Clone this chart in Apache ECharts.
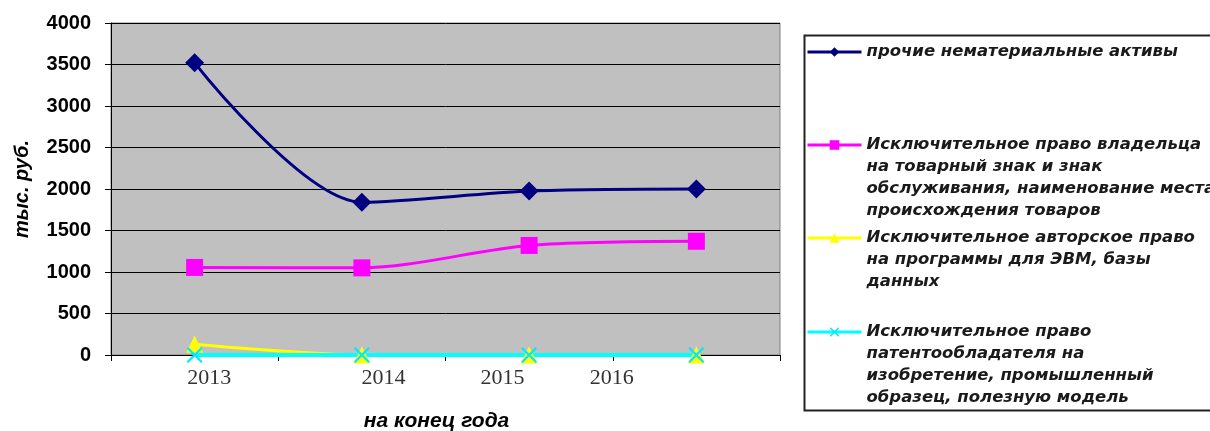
<!DOCTYPE html>
<html>
<head>
<meta charset="utf-8">
<script src="https://cdn.jsdelivr.net/npm/echarts@6/dist/echarts.min.js"></script>
<style>
  html, body { margin: 0; padding: 0; background: #fff; }
  #chart { width: 1210px; height: 431px; }
</style>
</head>
<body>
<div id="chart"></div>
<script>
  // данные графика
  const years = ['2013', '2014', '2015', '2016'];
  // подписи оси X стоят не под точками (как в исходном графике) — позиции в единицах категорий
  const yearLabels = ['2013', '2014', '2015', '2016'];
  const yearLabelPos = [0.587, 1.629, 2.341, 2.994];

  const otherAssets = [3520, 1840, 1975, 2000];
  const trademarkRight = [1055, 1050, 1320, 1370];
  const softwareRight = [130, 0, 0, 0];
  const patentRight = [0, 0, 0, 0];

  const yTicks = [0, 500, 1000, 1500, 2000, 2500, 3000, 3500, 4000];

  const names = [
    'прочие нематериальные активы',
    'Исключительное право владельца\nна товарный знак и знак\nобслуживания, наименование места\nпроисхождения товаров',
    'Исключительное авторское право\nна программы для ЭВМ, базы\nданных',
    'Исключительное право\nпатентообладателя на\nизобретение, промышленный\nобразец, полезную модель'
  ];

  const crossPath = 'path://M1,0 L5,4 L9,0 L10,1 L6,5 L10,9 L9,10 L5,6 L1,10 L0,9 L4,5 L0,1 Z';
  const LH = 22;

  const chart = echarts.init(document.getElementById('chart'));

  // одна легенда на серию, чтобы значок стоял у первой строки
  function makeLegend(name, iconY) {
    const n = name.split('\n').length;
    const blockH = (2 * n - 1) * LH;
    return {
      orient: 'vertical',
      left: 806,
      top: iconY - blockH / 2,
      itemWidth: 54,
      itemHeight: 12,
      padding: 0,
      data: [name],
      lineStyle: { width: 3 },
      formatter: function (t) {
        return '\n'.repeat(n - 1) + t;
      },
      textStyle: {
        fontFamily: 'DejaVu Sans',
        fontStyle: 'italic',
        fontWeight: 'bold',
        fontSize: 16.5,
        lineHeight: LH,
        color: '#1a1a1a'
      }
    };
  }

  const option = {
    animation: false,
    backgroundColor: '#fff',
    grid: {
      left: 111,
      right: 430,
      top: 23,
      bottom: 76,
      show: true,
      backgroundColor: '#c0c0c0',
      borderColor: '#808080',
      borderWidth: 1,
      outerBoundsMode: 'none'
    },
    graphic: [{
      type: 'rect',
      left: 802,
      top: 33,
      shape: { width: 440, height: 375 },
      style: { fill: 'none', stroke: '#222', lineWidth: 2 },
      silent: true
    }],
    legend: [
      makeLegend(names[0], 52),
      makeLegend(names[1], 145),
      makeLegend(names[2], 238),
      makeLegend(names[3], 332)
    ],
    xAxis: [{
      type: 'category',
      data: years,
      boundaryGap: true,
      name: 'на конец года',
      nameLocation: 'middle',
      nameGap: 56,
      nameTextStyle: {
        fontFamily: 'Liberation Sans',
        fontWeight: 'bold',
        fontStyle: 'italic',
        fontSize: 21,
        color: '#000',
        padding: [0, 18, 0, 0]
      },
      axisLine: { lineStyle: { color: '#000', width: 1 } },
      axisTick: { show: true, length: 6, lineStyle: { color: '#000' } },
      axisLabel: { show: false },
      splitLine: { show: false }
    }, {
      type: 'value',
      min: 0,
      max: 4,
      position: 'bottom',
      axisLine: { show: false },
      axisTick: { show: false },
      splitLine: { show: false },
      axisLabel: {
        customValues: yearLabelPos,
        margin: 12,
        fontFamily: 'Liberation Serif',
        fontSize: 22,
        color: '#333',
        formatter: function (v) {
          const i = yearLabelPos.findIndex(p => Math.abs(p - v) < 1e-6);
          return i >= 0 ? yearLabels[i] : '';
        }
      }
    }],
    yAxis: {
      type: 'value',
      min: yTicks[0],
      max: yTicks[yTicks.length - 1],
      interval: 500,
      name: 'тыс. руб.',
      nameLocation: 'middle',
      nameGap: 79,
      nameTextStyle: {
        fontFamily: 'Liberation Sans',
        fontWeight: 'bold',
        fontStyle: 'italic',
        fontSize: 20,
        color: '#000'
      },
      axisLine: { show: true, lineStyle: { color: '#000', width: 1 } },
      axisTick: { show: true, length: 6, lineStyle: { color: '#000' } },
      axisLabel: {
        margin: 20,
        fontFamily: 'Liberation Sans',
        fontWeight: 'bold',
        fontSize: 20,
        color: '#000',
        formatter: function (v) { return String(v); }
      },
      splitLine: { show: true, lineStyle: { color: '#000', width: 1 } }
    },
    series: [{
      name: names[0],
      type: 'line',
      smooth: 0.3,
      data: otherAssets,
      symbol: 'diamond',
      symbolSize: 19,
      itemStyle: { color: '#000080' },
      lineStyle: { color: '#000080', width: 3 }
    }, {
      name: names[1],
      type: 'line',
      smooth: 0.3,
      data: trademarkRight,
      symbol: 'rect',
      symbolSize: 17,
      itemStyle: { color: '#ff00ff' },
      lineStyle: { color: '#ff00ff', width: 3 }
    }, {
      name: names[2],
      type: 'line',
      smooth: 0.3,
      data: softwareRight,
      symbol: 'triangle',
      symbolSize: 17,
      itemStyle: { color: '#ffff00' },
      lineStyle: { color: '#ffff00', width: 3 }
    }, {
      name: names[3],
      type: 'line',
      smooth: 0.3,
      data: patentRight,
      symbol: crossPath,
      symbolSize: 16,
      itemStyle: { color: '#00e8ff' },
      lineStyle: { color: '#00ffff', width: 4 }
    }]
  };

  chart.setOption(option);
</script>
</body>
</html>
